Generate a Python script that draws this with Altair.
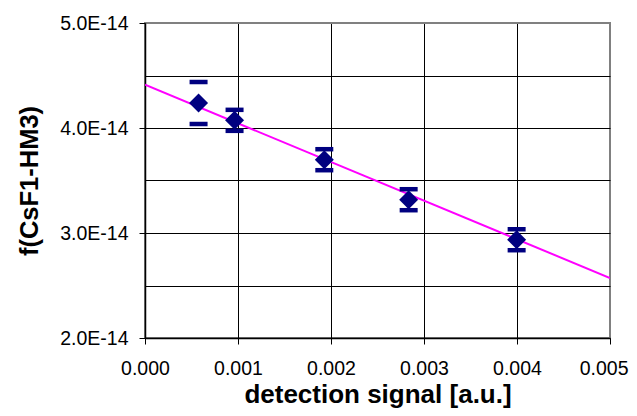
import altair as alt
import pandas as pd

# measured points
signal = [0.000576, 0.000963, 0.001928, 0.002835, 0.003996]
f_value = [4.238e-14, 4.073e-14, 3.698e-14, 3.317e-14, 2.936e-14]
f_error = [0.20e-14, 0.10e-14, 0.10e-14, 0.10e-14, 0.10e-14]

# linear fit end points
fit_signal = [0.0, 0.005]
fit_value = [4.413e-14, 2.571e-14]

x_ticks = [0.0, 0.001, 0.002, 0.003, 0.004, 0.005]
y_ticks = [2.0e-14, 2.5e-14, 3.0e-14, 3.5e-14, 4.0e-14, 4.5e-14, 5.0e-14]

df = pd.DataFrame({"x": signal, "y": f_value, "err": f_error})
df["lo"] = df["y"] - df["err"]
df["hi"] = df["y"] + df["err"]
fit = pd.DataFrame({"x": fit_signal, "y": fit_value})

NAVY = "#000080"
FONT = "Liberation Sans"
major_test = "abs(datum.value*1e14 - round(datum.value*1e14)) < 0.01"
last_test = "datum.value > 0.00499"

xscale = alt.Scale(domain=[0, 0.005], nice=False, zero=False)
yscale = alt.Scale(domain=[2e-14, 5e-14], nice=False, zero=False)

xaxis = alt.Axis(
    values=x_ticks, format=".3f", title="detection signal [a.u.]",
    labelFontSize=19.5, labelFont=FONT, labelColor="black", labelPadding=15,
    labelAlign={"condition": {"test": last_test, "value": "right"}, "value": "center"},
    labelOffset={"condition": {"test": last_test, "value": 18}, "value": 0},
    tickSize=6, tickColor="black", domainColor="black", domainWidth=1.5,
    grid=True, gridColor={"condition": {"test": last_test, "value": "#808080"}, "value": "black"},
    gridWidth=1, gridOpacity=1,
    titleFont=FONT, titleFontSize=26, titleFontWeight="bold", titleColor="black",
    titleX=232.5, titleY=64, titleBaseline="alphabetic", titleAlign="center",
    labelFlush=False,
)
yaxis = alt.Axis(
    values=y_ticks, title="f(CsF1-HM3)",
    labelExpr=f"{major_test} ? upper(format(datum.value, '.1e')) : ''",
    labelFontSize=19.5, labelFont=FONT, labelColor="black", labelPadding=11,
    tickSize=6, tickColor="black", domainColor="black", domainWidth=1.5,
    tickOpacity={"condition": {"test": major_test, "value": 1}, "value": 0},
    grid=True, gridColor={"condition": {"test": "datum.value > 4.99e-14", "value": "#808080"}, "value": "black"},
    gridWidth=1, gridOpacity=1,
    titleFont=FONT, titleFontSize=25.5, titleFontWeight="bold", titleColor="black",
    titleX=-107.5, titleY=157.5, titleBaseline="alphabetic", titleAlign="center", titleAngle=270,
    labelFlush=False,
)

line = alt.Chart(fit).mark_line(color="#FF00FF", strokeWidth=2, clip=True).encode(
    x=alt.X("x:Q", scale=xscale, axis=xaxis),
    y=alt.Y("y:Q", scale=yscale, axis=yaxis),
)
cap_hi = alt.Chart(df).mark_tick(color=NAVY, orient="horizontal", size=18, thickness=4.5, opacity=1).encode(
    x=alt.X("x:Q", scale=xscale), y=alt.Y("hi:Q", scale=yscale)
)
cap_lo = alt.Chart(df).mark_tick(color=NAVY, orient="horizontal", size=18, thickness=4.5, opacity=1).encode(
    x=alt.X("x:Q", scale=xscale), y=alt.Y("lo:Q", scale=yscale)
)
pts = alt.Chart(df).mark_point(shape="diamond", filled=True, size=360, color=NAVY, opacity=1).encode(
    x=alt.X("x:Q", scale=xscale), y=alt.Y("y:Q", scale=yscale)
)

chart = alt.layer(line, cap_hi, cap_lo, pts).properties(
    width=465, height=315,
    autosize=alt.AutoSizeParams(type="none"),
    padding={"left": 137, "top": 15, "right": 19, "bottom": 70},
    background="white",
).configure_view(stroke="#808080", strokeWidth=2)

chart.save("out.html", embed_options={"renderer": "svg", "actions": False})
